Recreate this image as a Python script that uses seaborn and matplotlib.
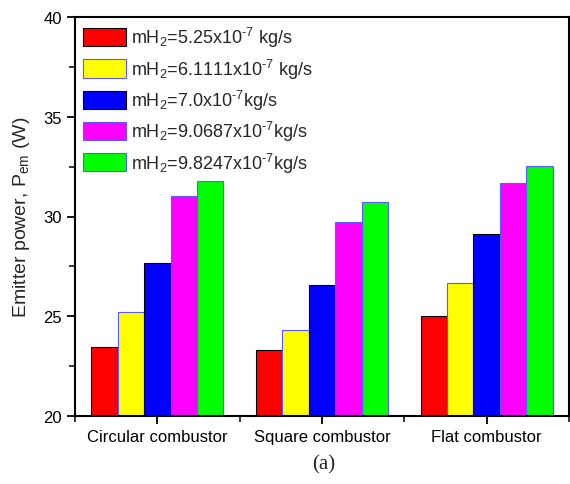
import numpy as np
import pandas as pd
import matplotlib
matplotlib.use("Agg")
import matplotlib.pyplot as plt
from matplotlib.ticker import MultipleLocator, FixedLocator
from matplotlib.patches import Patch
import seaborn as sns

# Data
combustors = ["Circular combustor", "Square combustor", "Flat combustor"]
flow_labels = [
    r"mH$_2$=5.25x10$^{\text{-}7}$ kg/s",
    r"mH$_2$=6.1111x10$^{\text{-}7}$ kg/s",
    r"mH$_2$=7.0x10$^{\text{-}7}$kg/s",
    r"mH$_2$=9.0687x10$^{\text{-}7}$kg/s",
    r"mH$_2$=9.8247x10$^{\text{-}7}$kg/s",
]
p_525 = [23.48, 23.30, 25.00]
p_611 = [25.23, 24.33, 26.66]
p_700 = [27.65, 26.58, 29.10]
p_907 = [31.05, 29.72, 31.70]
p_982 = [31.80, 30.75, 32.53]

fill_colors = ["#ff0000", "#ffff00", "#0000ff", "#ff00ff", "#00ff00"]
edge_colors = ["#000000", "#5a5aff", "#000000", "#5a5aff", "#5a5aff"]

series = [p_525, p_611, p_700, p_907, p_982]
rows = []
for lab, vals in zip(flow_labels, series):
    for c, v in zip(combustors, vals):
        rows.append({"combustor": c, "flow": lab, "power": v})
df = pd.DataFrame(rows)

sns.set_style("ticks")
plt.rcParams["font.family"] = ["Liberation Sans", "DejaVu Sans"]
plt.rcParams["mathtext.fontset"] = "custom"
plt.rcParams["mathtext.rm"] = "Liberation Sans"
plt.rcParams["mathtext.it"] = "Liberation Sans:italic"

fig = plt.figure(figsize=(5.7, 4.85), dpi=100)
ax = fig.add_axes([75 / 570, 1 - 417 / 485, (569 - 75) / 570, (417 - 18) / 485])

sns.barplot(data=df, x="combustor", y="power", hue="flow",
            hue_order=flow_labels, order=combustors,
            palette=fill_colors, width=0.8, saturation=1,
            ax=ax, legend=False)

for cont, ec in zip(ax.containers, edge_colors):
    for bar in cont:
        bar.set_edgecolor(ec)
        bar.set_linewidth(0.8)

ax.set_ylim(20, 40)
ax.set_xlim(-0.5, 2.5)
ax.yaxis.set_major_locator(MultipleLocator(5))
ax.yaxis.set_minor_locator(MultipleLocator(2.5))
ax.xaxis.set_minor_locator(FixedLocator([-0.5, 0.5, 1.5, 2.5]))
ax.tick_params(axis="both", which="major", direction="out", length=6, width=1.3,
               labelsize=12, colors="black")
ax.tick_params(axis="both", which="minor", direction="out", length=4, width=1.3)
ax.tick_params(top=False, right=False, which="both")

for s in ax.spines.values():
    s.set_visible(True)
    s.set_linewidth(1.5)
    s.set_color("black")

ax.set_xlabel("")
ax.set_ylabel(r"Emitter power, P$_{\rm em}$ (W)", fontsize=14, labelpad=8)

handles = [Patch(facecolor=fc, edgecolor=ec, linewidth=0.8)
           for fc, ec in zip(fill_colors, edge_colors)]
ax.legend(handles, flow_labels, loc="upper left", frameon=False,
          fontsize=13, handlelength=2.4, handleheight=1.17,
          labelspacing=0.4, handletextpad=0.25,
          borderpad=0.35, borderaxespad=0.1)

fig.text(324 / 570, 1 - 465 / 485, "(a)", ha="center", va="center",
         fontsize=15, family=["Liberation Serif", "DejaVu Serif"])

fig.savefig("out.png", dpi=100)
